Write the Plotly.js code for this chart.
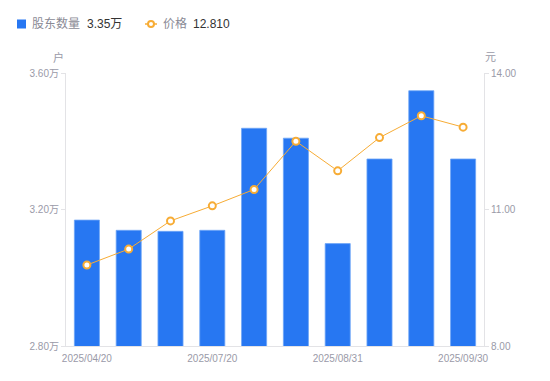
<!DOCTYPE html>
<html>
<head>
<meta charset="utf-8">
<script src="https://cdn.plot.ly/plotly-3.0.1.min.js"></script>
<style>
html,body{margin:0;padding:0;background:#fff;}
#chart{width:550px;height:381px;}
</style>
</head>
<body>
<div id="chart"></div>
<script>
// Data
const dates = ["2025/04/20","2025/05/20","2025/06/20","2025/07/20","2025/07/31","2025/08/10","2025/08/31","2025/09/10","2025/09/19","2025/09/30"];
const holders = [3.169, 3.139, 3.136, 3.139, 3.438, 3.409, 3.100, 3.348, 3.548, 3.348]; // 万户
const prices = [9.78, 10.13, 10.75, 11.08, 11.44, 12.50, 11.85, 12.58, 13.06, 12.81];
const shownTicks = ["2025/04/20","2025/07/20","2025/08/31","2025/09/30"];
const leftTicks = [2.8, 3.2, 3.6];
const leftTickText = ["2.80万","3.20万","3.60万"];
const rightTicks = [8, 11, 14];
const rightTickText = ["8.00","11.00","14.00"];

const W = 550, H = 381, ML = 66, MR = 66, MT = 73, MB = 35;
const PW = W - ML - MR, PH = H - MT - MB;
const px = x => (x - ML) / PW;
const py = y => (H - MB - y) / PH;

const FONT = "Liberation Sans, Arial, Noto Sans CJK SC, sans-serif";
const BLUE = "#2777F2";
const ORANGE = "#F7AC35";
const GRAY = "#9a9aa8";
const AXIS = "#e3e3e6";

const traces = [
  {
    type: "bar", x: dates, y: holders, yaxis: "y", name: "股东数量",
    width: 0.6,
    marker: {color: BLUE, line: {color: "#6fa6f6", width: 0.8}},
    hoverinfo: "skip"
  },
  {
    type: "scatter", mode: "lines+markers", x: dates, y: prices, yaxis: "y2", name: "价格",
    line: {color: ORANGE, width: 1},
    marker: {color: "#fff", size: 7, line: {color: ORANGE, width: 2}},
    cliponaxis: false,
    hoverinfo: "skip"
  }
];

const last = holders.length - 1;
const layout = {
  width: W, height: H,
  margin: {l: ML, r: MR, t: MT, b: MB, pad: 0},
  paper_bgcolor: "#fff", plot_bgcolor: "#fff",
  showlegend: false,
  font: {family: FONT, color: GRAY, size: 10},
  xaxis: {
    type: "category", categoryorder: "array", categoryarray: dates,
    range: [-0.5, dates.length - 0.5],
    tickvals: shownTicks, ticktext: shownTicks,
    showgrid: false, zeroline: false,
    showline: true, linecolor: AXIS, linewidth: 1,
    ticks: "", ticklabelstandoff: 3,
    tickfont: {size: 10, color: GRAY, family: FONT},
    fixedrange: true
  },
  yaxis: {
    range: [2.8, 3.6], tickvals: leftTicks, ticktext: leftTickText,
    showgrid: false, zeroline: false,
    showline: true, linecolor: AXIS, linewidth: 1,
    ticks: "outside", ticklen: 4, tickcolor: AXIS,
    tickfont: {size: 10, color: GRAY, family: FONT},
    fixedrange: true
  },
  yaxis2: {
    range: [8, 14], tickvals: rightTicks, ticktext: rightTickText,
    overlaying: "y", side: "right",
    showgrid: false, zeroline: false,
    showline: true, linecolor: AXIS, linewidth: 1,
    ticks: "outside", ticklen: 4, tickcolor: AXIS,
    tickfont: {size: 10, color: GRAY, family: FONT},
    fixedrange: true
  },
  shapes: [
    {type: "rect", xref: "paper", yref: "paper", x0: px(17), x1: px(26), y0: py(28.5), y1: py(19.5),
     fillcolor: BLUE, line: {width: 0}},
    {type: "line", xref: "paper", yref: "paper", x0: px(145), x1: px(157), y0: py(24), y1: py(24),
     line: {color: ORANGE, width: 1.5}},
    {type: "circle", xref: "paper", yref: "paper", x0: px(148), x1: px(154), y0: py(27), y1: py(21),
     fillcolor: "#fff", line: {color: ORANGE, width: 2}}
  ],
  annotations: [
    {xref: "paper", yref: "paper", x: px(30), y: py(24), xanchor: "left", yanchor: "middle",
     text: "股东数量", showarrow: false, font: {size: 12, color: "#8a8a95", family: FONT}},
    {xref: "paper", yref: "paper", x: px(85), y: py(24), xanchor: "left", yanchor: "middle",
     text: holders[last].toFixed(2) + "万", showarrow: false, font: {size: 12, color: "#333", family: FONT}},
    {xref: "paper", yref: "paper", x: px(161), y: py(24), xanchor: "left", yanchor: "middle",
     text: "价格", showarrow: false, font: {size: 12, color: "#8a8a95", family: FONT}},
    {xref: "paper", yref: "paper", x: px(191), y: py(24), xanchor: "left", yanchor: "middle",
     text: prices[last].toFixed(3), showarrow: false, font: {size: 12, color: "#333", family: FONT}},
    {xref: "paper", yref: "paper", x: px(58), y: py(57), xanchor: "center", yanchor: "middle",
     text: "户", showarrow: false, font: {size: 11, color: GRAY, family: FONT}},
    {xref: "paper", yref: "paper", x: px(490), y: py(57), xanchor: "center", yanchor: "middle",
     text: "元", showarrow: false, font: {size: 11, color: GRAY, family: FONT}}
  ]
};

Plotly.newPlot("chart", traces, layout, {displayModeBar: false, staticPlot: true});
</script>
</body>
</html>
